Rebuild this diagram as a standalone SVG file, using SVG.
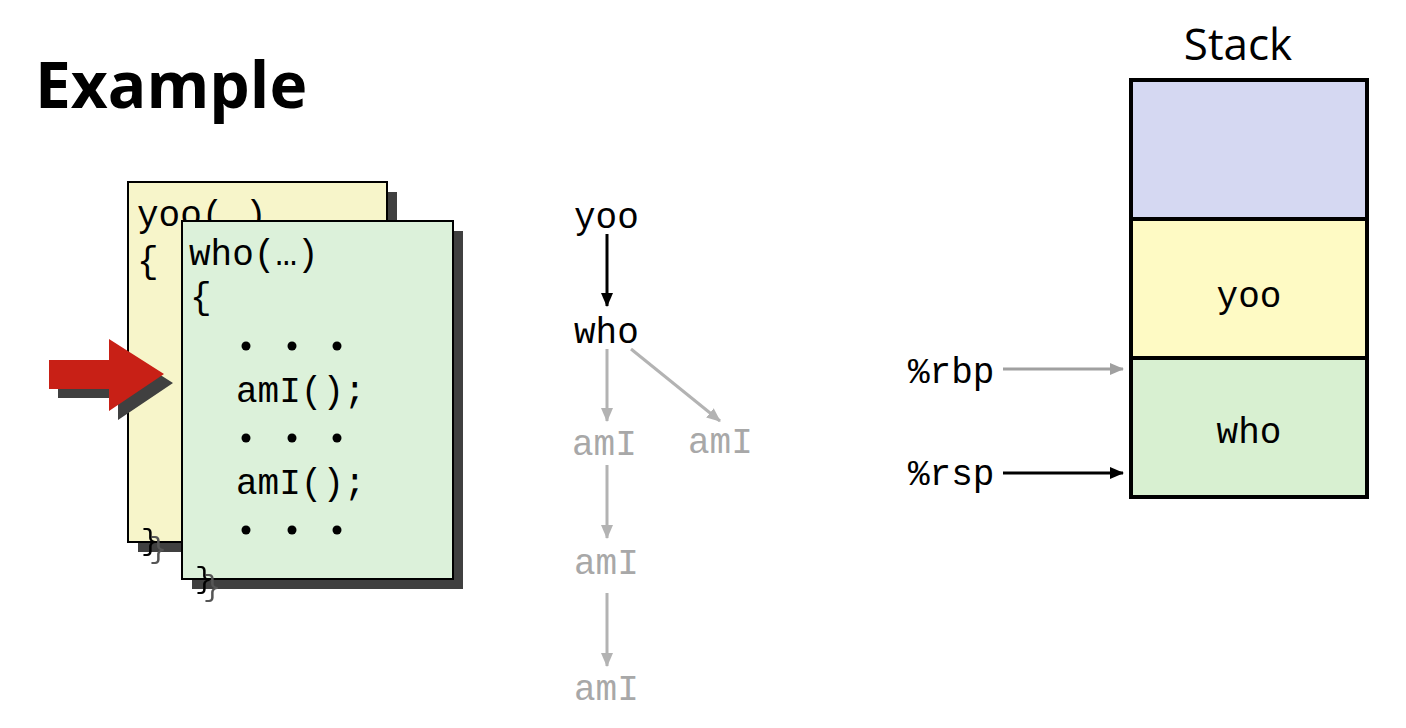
<svg xmlns="http://www.w3.org/2000/svg" width="1406" height="728" viewBox="0 0 1406 728">
  <style>
    .mono { font-family: "Liberation Mono", "Courier New", monospace; font-size: 36px; }
    .code { fill: #000; }
    .faded { fill: #a8a8a8; }
    .card { stroke: #000; stroke-width: 2; }
    .shadow { fill: #404040; }
    .cell { stroke: #000; stroke-width: 4; }
    .dark { stroke: #000; stroke-width: 3; fill: none; }
    .light { stroke: #b3b3b3; stroke-width: 3; fill: none; }
    .brace { filter: url(#textShadow); font-size: 30px; }
  </style>
  <defs>
    <marker id="headDark" markerUnits="userSpaceOnUse" markerWidth="14" markerHeight="12" refX="13" refY="6" orient="auto">
      <path d="M0,0 L14,6 L0,12 Z" fill="#000"/>
    </marker>
    <marker id="headLight" markerUnits="userSpaceOnUse" markerWidth="14" markerHeight="12" refX="13" refY="6" orient="auto">
      <path d="M0,0 L14,6 L0,12 Z" fill="#b3b3b3"/>
    </marker>
    <marker id="headGrey" markerUnits="userSpaceOnUse" markerWidth="14" markerHeight="12" refX="13" refY="6" orient="auto">
      <path d="M0,0 L14,6 L0,12 Z" fill="#a0a0a0"/>
    </marker>
    <!-- offset grey copy of a glyph behind itself -->
    <filter id="textShadow" x="-50%" y="-50%" width="200%" height="200%">
      <feOffset in="SourceAlpha" dx="8" dy="8" result="off"/>
      <feFlood flood-color="#555"/>
      <feComposite in2="off" operator="in" result="shade"/>
      <feMerge>
        <feMergeNode in="shade"/>
        <feMergeNode in="SourceGraphic"/>
      </feMerge>
    </filter>
  </defs>

  <rect width="1406" height="728" fill="#fff"/>

  <!-- title -->
  <text x="35" y="108" font-family="'Open Sans', 'Liberation Sans', sans-serif" font-weight="700" font-size="64">Example</text>

  <!-- yoo source card -->
  <g id="card-yoo">
    <rect class="shadow" x="138" y="192" width="259" height="360"/>
    <rect class="card" x="128" y="182" width="259" height="360" fill="#f7f5ca"/>
    <text class="mono code" x="137" y="226">yoo(…)</text>
    <text class="mono code" x="137" y="272">{</text>
    <text class="mono code brace" x="141" y="550">}</text>
  </g>

  <!-- who source card -->
  <g id="card-who">
    <rect class="shadow" x="192" y="231" width="271" height="358"/>
    <rect class="card" x="182" y="221" width="271" height="358" fill="#dcf1da"/>
    <text class="mono code" x="189" y="265">who(…)</text>
    <text class="mono code" x="190" y="308">{</text>
    <g fill="#000">
      <circle cx="246" cy="346" r="4.5"/><circle cx="292" cy="346" r="4.5"/><circle cx="337" cy="346" r="4.5"/>
      <circle cx="246" cy="438" r="4.5"/><circle cx="292" cy="438" r="4.5"/><circle cx="337" cy="438" r="4.5"/>
      <circle cx="246" cy="530" r="4.5"/><circle cx="292" cy="530" r="4.5"/><circle cx="337" cy="530" r="4.5"/>
    </g>
    <text class="mono code" x="236" y="402">amI();</text>
    <text class="mono code" x="236" y="494">amI();</text>
    <text class="mono code brace" x="195" y="588">}</text>
  </g>

  <!-- current-position pointer -->
  <g id="pointer">
    <path d="M58,369 H118 V348 L173,383 L118,420 V398 H58 Z" fill="#404040"/>
    <path d="M49,360 H109 V339 L164,374 L109,411 V389 H49 Z" fill="#c82016"/>
  </g>

  <!-- call tree -->
  <g id="tree-yoo"><text class="mono code" x="574" y="228">yoo</text></g>
  <g id="tree-who"><text class="mono code" x="574" y="343">who</text></g>
  <g id="tree-amI-1"><text class="mono faded" x="572" y="455">amI</text></g>
  <g id="tree-amI-2"><text class="mono faded" x="688" y="453">amI</text></g>
  <g id="tree-amI-3"><text class="mono faded" x="574" y="574">amI</text></g>
  <g id="tree-amI-4"><text class="mono faded" x="574" y="700">amI</text></g>

  <!-- stack frames -->
  <g id="stack">
    <text x="1238" y="60" text-anchor="middle" font-family="'Open Sans', 'Liberation Sans', sans-serif" font-size="44">Stack</text>
    <rect class="cell" x="1131" y="80" width="236" height="139" fill="#d5d8f2"/>
    <rect class="cell" x="1131" y="219" width="236" height="139" fill="#fefac4"/>
    <rect class="cell" x="1131" y="358" width="236" height="139" fill="#d8f0d1"/>
    <text class="mono code" x="1249" y="307" text-anchor="middle">yoo</text>
    <text class="mono code" x="1249" y="443" text-anchor="middle">who</text>
  </g>
  <g id="reg-rbp"><text class="mono code" x="908" y="383">%rbp</text></g>
  <g id="reg-rsp"><text class="mono code" x="908" y="485">%rsp</text></g>

  <!-- connectors -->
  <g id="connectors">
    <line class="dark" x1="607" y1="234" x2="607" y2="306" marker-end="url(#headDark)"/>
    <line class="light" x1="607" y1="349" x2="607" y2="421" marker-end="url(#headLight)"/>
    <line class="light" x1="631" y1="349" x2="720" y2="421" marker-end="url(#headLight)"/>
    <line class="light" x1="607" y1="465" x2="607" y2="538" marker-end="url(#headLight)"/>
    <line class="light" x1="607" y1="593" x2="607" y2="666" marker-end="url(#headLight)"/>
    <line x1="1003" y1="369" x2="1123" y2="369" stroke="#a0a0a0" stroke-width="3" marker-end="url(#headGrey)"/>
    <line class="dark" x1="1003" y1="473" x2="1123" y2="473" marker-end="url(#headDark)"/>
  </g>
</svg>
